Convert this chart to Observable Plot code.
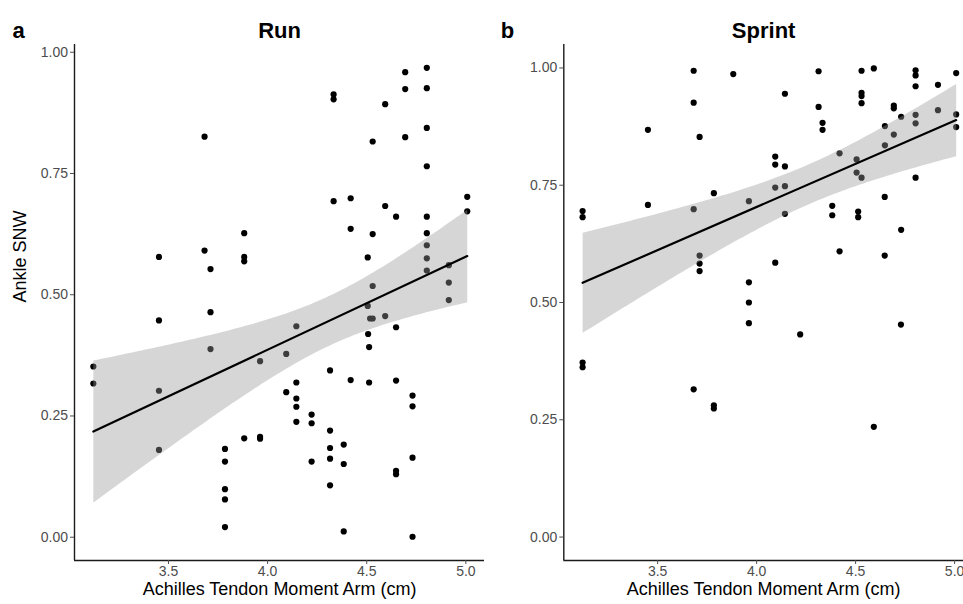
<!DOCTYPE html>
<html>
<head>
<meta charset="utf-8">
<script src="https://cdn.jsdelivr.net/npm/d3@7"></script>
<script src="https://cdn.jsdelivr.net/npm/@observablehq/plot@0.6"></script>
<style>
  html, body { margin: 0; padding: 0; background: #fff; overflow: hidden; }
  #wrap { position: relative; width: 963px; height: 604px; font-family: "Liberation Sans", Arial, sans-serif; }
  #wrap svg { position: absolute; top: 0; overflow: visible; }
</style>
</head>
<body>
<div id="wrap"></div>
<script>
// ---- Data ----
const runX = [3.121,3.121,3.452,3.452,3.452,3.452,3.682,3.682,3.712,3.712,3.712,3.785,3.785,3.785,3.785,3.785,
  3.882,3.882,3.882,3.882,3.962,3.962,3.962,4.094,4.094,4.145,4.145,4.145,4.145,4.145,4.222,4.222,4.222,
  4.315,4.315,4.315,4.315,4.315,4.333,4.333,4.333,4.384,4.384,4.384,4.419,4.419,4.419,4.505,4.505,4.507,
  4.512,4.512,4.517,4.530,4.530,4.530,4.530,4.593,4.593,4.593,4.648,4.648,4.648,4.648,4.648,4.694,4.694,
  4.694,4.731,4.731,4.731,4.731,4.803,4.803,4.803,4.803,4.803,4.803,4.803,4.803,4.803,4.914,4.914,4.914,
  5.007,5.007];
const runY = [0.352,0.317,0.578,0.447,0.302,0.180,0.826,0.591,0.553,0.464,0.388,0.182,0.156,0.099,0.078,0.021,
  0.627,0.578,0.569,0.204,0.363,0.207,0.203,0.378,0.299,0.435,0.319,0.286,0.269,0.238,0.253,0.235,0.156,
  0.344,0.220,0.184,0.162,0.107,0.913,0.903,0.693,0.191,0.151,0.012,0.699,0.636,0.324,0.577,0.477,0.419,
  0.392,0.319,0.451,0.451,0.816,0.625,0.518,0.893,0.683,0.456,0.661,0.433,0.323,0.137,0.130,0.959,0.924,
  0.825,0.292,0.270,0.164,0.001,0.968,0.926,0.844,0.765,0.661,0.627,0.602,0.575,0.550,0.561,0.525,0.489,
  0.702,0.672];

const sprintX = [3.682,3.882,3.682,3.451,3.712,3.784,3.451,3.682,3.961,3.121,3.121,3.712,3.712,3.712,3.961,3.961,
  3.961,4.220,4.729,3.121,3.121,3.682,3.784,3.784,4.592,
  4.313,4.530,4.592,4.803,4.803,5.008,4.916,4.803,4.143,4.530,4.530,4.530,4.313,4.693,4.693,5.008,4.916,
  4.803,4.730,4.803,5.008,4.333,4.333,4.648,4.693,4.648,4.419,4.094,4.094,4.143,4.505,4.505,4.530,4.803,
  4.094,4.143,4.647,4.382,4.382,4.143,4.513,4.513,4.730,4.419,4.647,4.094];
const sprintY = [0.994,0.987,0.926,0.868,0.853,0.733,0.708,0.699,0.716,0.695,0.682,0.600,0.583,0.567,0.543,0.500,
  0.456,0.432,0.453,0.372,0.362,0.315,0.281,0.274,0.235,
  0.993,0.994,0.999,0.995,0.984,0.989,0.964,0.961,0.945,0.947,0.940,0.925,0.917,0.920,0.914,0.901,0.910,
  0.900,0.896,0.882,0.874,0.883,0.868,0.876,0.858,0.835,0.818,0.811,0.794,0.790,0.805,0.777,0.766,0.766,
  0.745,0.748,0.725,0.706,0.686,0.689,0.694,0.682,0.655,0.609,0.600,0.585];

const xTicks = [3.5, 4.0, 4.5, 5.0];
const yTicks = [0, 0.25, 0.5, 0.75, 1.0];
const panelTags = ["a", "b"];
const panelTitles = ["Run", "Sprint"];
const xTitle = "Achilles Tendon Moment Arm (cm)";
const yTitle = "Ankle SNW";

const FONT = "Liberation Sans, Arial, sans-serif";

function panel({xs, ys, tag, title, ylabel, width, marginLeft, xDomain, yDomain, left, tagDx}) {
  const data = xs.map((x, i) => ({x, y: ys[i]}));
  const marks = [
    Plot.ruleX([xDomain[0]], {stroke: "#1a1a1a", strokeWidth: 1.4}),
    Plot.ruleY([yDomain[0]], {stroke: "#1a1a1a", strokeWidth: 1.4}),
    Plot.axisX({ticks: xTicks, tickFormat: d3.format(".1f"), tickSize: 4, tickPadding: 2,
      label: null, color: "#4d4d4d", fontSize: 14}),
    Plot.axisY({ticks: yTicks, tickFormat: d3.format(".2f"), tickSize: 4, tickPadding: 2.5,
      label: null, color: "#4d4d4d", fontSize: 14}),
    Plot.dot(data, {x: "x", y: "y", r: 3.1, fill: "black", stroke: "none"}),
    Plot.linearRegressionY(data, {x: "x", y: "y", ci: 0.95, stroke: "black", strokeWidth: 2.2,
      fill: "#999999", fillOpacity: 0.4}),
    Plot.text([xTitle], {text: d => d, frameAnchor: "bottom", dy: 34, fontSize: 18, fill: "black"}),
    Plot.text([title], {text: d => d, frameAnchor: "top", dy: -22, fontSize: 22, fontWeight: "bold", fill: "black"}),
    Plot.text([tag], {text: d => d, frameAnchor: "top-left", textAnchor: "start", dx: tagDx, dy: -22,
      fontSize: 22, fontWeight: "bold", fill: "black"})
  ];
  if (ylabel) {
    marks.push(Plot.text([ylabel], {text: d => d, frameAnchor: "left", rotate: -90, dx: -54,
      fontSize: 18, fill: "black"}));
  }
  const svg = Plot.plot({
    width, height: 604,
    marginLeft, marginRight: 0, marginTop: 44, marginBottom: 44,
    style: {fontFamily: FONT, background: "white", overflow: "visible"},
    x: {domain: xDomain},
    y: {domain: yDomain},
    marks
  });
  svg.style.left = left + "px";
  return svg;
}

const wrap = document.getElementById("wrap");
wrap.appendChild(panel({xs: runX, ys: runY, tag: panelTags[0], title: panelTitles[0], ylabel: yTitle,
  width: 484, marginLeft: 74, xDomain: [3.026, 5.094], yDomain: [-0.048, 1.016], left: 0, tagDx: -62}));
wrap.appendChild(panel({xs: sprintX, ys: sprintY, tag: panelTags[1], title: panelTitles[1], ylabel: null,
  width: 479, marginLeft: 79.3, xDomain: [3.026, 5.045], yDomain: [-0.05, 1.05], left: 484, tagDx: -63}));
</script>
</body>
</html>
